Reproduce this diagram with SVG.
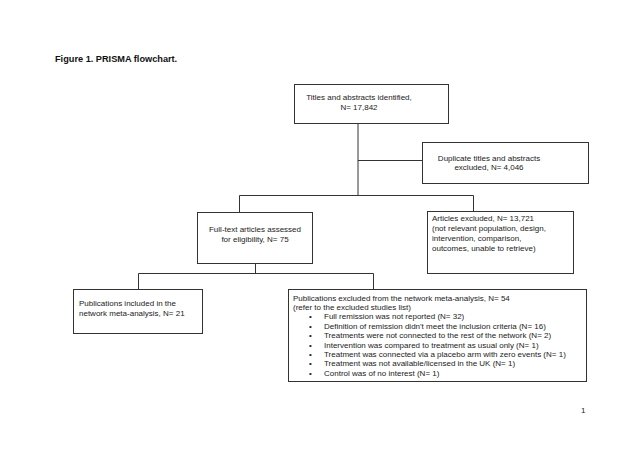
<svg xmlns="http://www.w3.org/2000/svg" width="640" height="452" viewBox="0 0 640 452">
<style>
.box{fill:#fff;stroke:#333;stroke-width:1}
.ln{fill:none;stroke:#333;stroke-width:1}
text{font-family:"Liberation Sans",Arial,sans-serif;font-size:8px;fill:#222}
.c{text-anchor:middle}
.t{font-weight:bold;font-size:9.2px;fill:#111}
</style>
<rect width="640" height="452" fill="#fff"/>
<text class="t" x="55" y="62">Figure 1. PRISMA flowchart.</text>
<g id="connectors">
<path class="ln" d="M358,124 V195.5"/>
<path class="ln" d="M358,160.5 H422"/>
<path class="ln" d="M239.5,212 V195.5 H473.5 V211"/>
<path class="ln" d="M255.5,263 V273.5"/>
<path class="ln" d="M138.5,289 V273.5 H373.5 V289"/>
</g>
<g id="n1"><rect class="box" x="294.5" y="84.5" width="154" height="39"/>
<text class="c" x="359" y="100">Titles and abstracts identified,</text>
<text class="c" x="359" y="110">N= 17,842</text></g>
<g id="n2"><rect class="box" x="422.5" y="142.5" width="166" height="41"/>
<text class="c" x="489" y="161">Duplicate titles and abstracts</text>
<text class="c" x="489" y="170">excluded, N= 4,046</text></g>
<g id="n3"><rect class="box" x="197.5" y="212.5" width="115" height="51"/>
<text class="c" x="255" y="232">Full-text articles assessed</text>
<text class="c" x="255" y="242">for eligibility, N= 75</text></g>
<g id="n4"><rect class="box" x="427.5" y="211.5" width="146" height="62"/>
<text x="432" y="221">Articles excluded, N= 13,721</text>
<text x="432" y="231">(not relevant population, design,</text>
<text x="432" y="241">intervention, comparison,</text>
<text x="432" y="251">outcomes, unable to retrieve)</text></g>
<g id="n5"><rect class="box" x="73.5" y="289.5" width="129" height="44"/>
<text x="79" y="306">Publications included in the</text>
<text x="79" y="316">network meta-analysis, N= 21</text></g>
<g id="n6"><rect class="box" x="288.5" y="289.5" width="298" height="92"/>
<text x="293" y="300.5">Publications excluded from the network meta-analysis, N= 54</text>
<text x="293" y="309.9">(refer to the excluded studies list)</text>
<g>
<text x="309" y="319.3">•</text><text x="324" y="319.3">Full remission was not reported (N= 32)</text>
<text x="309" y="328.7">•</text><text x="324" y="328.7">Definition of remission didn't meet the inclusion criteria (N= 16)</text>
<text x="309" y="338.1">•</text><text x="324" y="338.1">Treatments were not connected to the rest of the network (N= 2)</text>
<text x="309" y="347.5">•</text><text x="324" y="347.5">Intervention was compared to treatment as usual only (N= 1)</text>
<text x="309" y="356.9">•</text><text x="324" y="356.9">Treatment was connected via a placebo arm with zero events (N= 1)</text>
<text x="309" y="366.3">•</text><text x="324" y="366.3">Treatment was not available/licensed in the UK (N= 1)</text>
<text x="309" y="375.7">•</text><text x="324" y="375.7">Control was of no interest (N= 1)</text>
</g></g>
<text x="581" y="413" style="font-size:8px">1</text>
</svg>
